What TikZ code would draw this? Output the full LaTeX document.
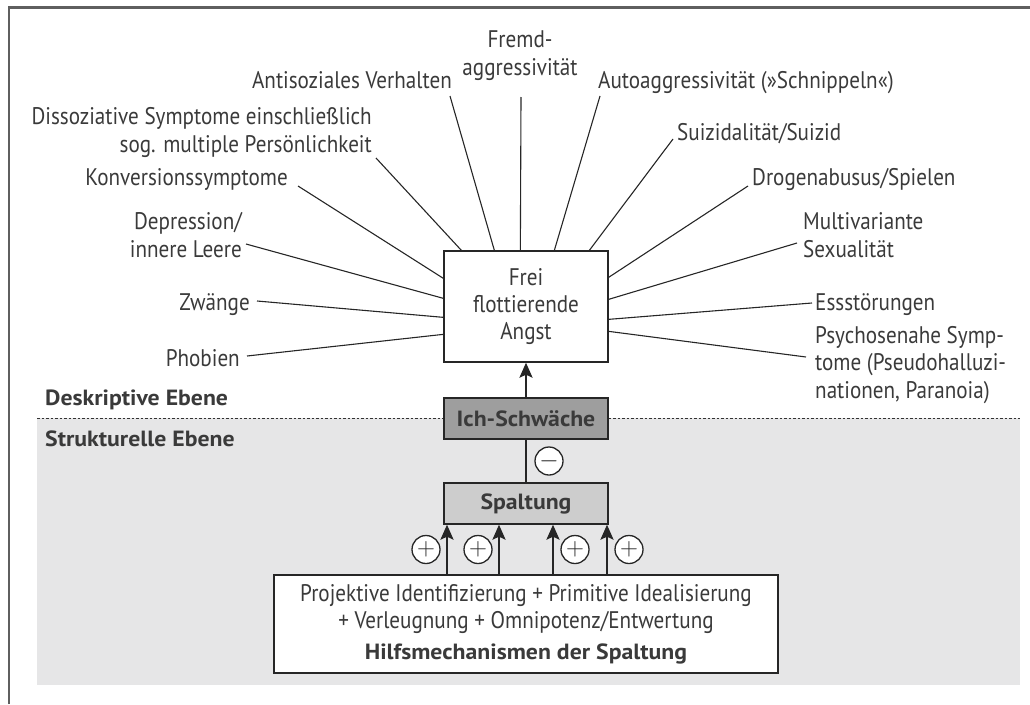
\documentclass[tikz,border=0pt]{standalone}
\usepackage{fontspec}
\setmainfont{PT Sans}[FakeStretch=0.88]
\newfontfamily\fett{PT Sans}[FakeStretch=1.08]
\usepackage{tikz}
\usetikzlibrary{calc,arrows.meta}
\definecolor{framegray}{HTML}{5F5F5F}
\definecolor{txtgray}{HTML}{3A3A3A}
\definecolor{ebenegray}{HTML}{E6E6E7}
\definecolor{ichgray}{HTML}{9E9E9E}
\definecolor{spaltgray}{HTML}{CDCDCD}
\tikzset{
	lbl/.style={inner sep=0pt, text=txtgray, font=\fontsize{24}{27.5}\selectfont},
	boldlbl/.style={lbl, font=\fett\bfseries\fontsize{22}{27.5}\selectfont},
	ray/.style={line width=1.1pt, draw=black!85},
	kasten/.style={draw=black!85, line width=1.3pt, fill=white, text=txtgray, align=center, inner sep=0pt, font=\fontsize{24}{27}\selectfont},
	fettkasten/.style={kasten, minimum width=164pt, minimum height=41pt, font=\fett\bfseries\fontsize{22}{27.5}\selectfont},
	strong/.style={line width=2.4pt, draw=black!85},
	arr/.style={strong, -{Stealth[length=15pt,width=13pt,inset=3pt]}},
	sgn/.style={circle, draw=black!85, fill=white, line width=1.3pt, minimum size=28pt, inner sep=0pt, text=black!85, font=\fontsize{25}{25}\selectfont}
}
\begin{document}
\begin{tikzpicture}[x=1pt,y=1pt]
		\useasboundingbox (0,0) rectangle (1030,-704);
		%frame
		\draw[framegray, line width=2.2pt] (9,-704) -- (9,-7.5) -- (1030,-7.5);
		%strukturelle ebene
		\fill[ebenegray] (37,-418) rectangle (1020,-685);
		\draw[black!80, line width=1pt, dash pattern=on 2.5pt off 2pt] (37,-418) -- (1020,-418);
		
		%boxes
		\node[kasten, minimum width=164pt, minimum height=111pt] (frei) at (526,-306.5) {Frei\\flottierende\\Angst};
		\node[fettkasten, fill=ichgray] (ich) at (526,-418.5) {Ich-Schwäche};
		\node[fettkasten, fill=spaltgray] (spalt) at (526,-503.5) {Spaltung};
		\node[kasten, minimum width=504pt, minimum height=98pt] (hilf) at (526,-624) {Projektive Identifizierung + Primitive Idealisierung\\+ Verleugnung + Omnipotenz/Entwertung\\[4pt]{\fett\bfseries\fontsize{22}{27.5}\selectfont Hilfsmechanismen der Spaltung}};
		
		%symptoms
		\node[lbl, align=center, anchor=base] (fremd) at (520,-75) {Fremd-\\aggressivität};
		\node[lbl, anchor=base east] (anti) at (452,-88) {Antisoziales Verhalten};
		\node[lbl, anchor=base west] (auto) at (598,-88) {Autoaggressivität (»Schnippeln«)};
		\node[lbl, align=right, anchor=base east] (diss) at (372,-152) {Dissoziative Symptome einschließlich\\sog. multiple Persönlichkeit};
		\node[lbl, anchor=base east] (konv) at (288,-185) {Konversionssymptome};
		\node[lbl, align=right, anchor=base east] (depr) at (242,-257) {Depression/\\innere Leere};
		\node[lbl, anchor=base east] (zwang) at (250,-310) {Zwänge};
		\node[lbl, anchor=base east] (phob) at (240,-366) {Phobien};
		\node[lbl, anchor=base west] (suiz) at (677,-140) {Suizidalität/Suizid};
		\node[lbl, anchor=base west] (drog) at (752,-185) {Drogenabusus/Spielen};
		\node[lbl, align=left, anchor=base west] (multi) at (803,-257) {Multivariante\\Sexualität};
		\node[lbl, anchor=base west] (ess) at (815,-310) {Essstörungen};
		\node[lbl, align=left, anchor=base west] (psych) at (815,-398) {Psychosenahe Symp-\\tome (Pseudohalluzi-\\nationen, Paranoia)};
		
		%levels
		\node[boldlbl, anchor=base west] (desk) at (45,-405) {Deskriptive Ebene};
		\node[boldlbl, anchor=base west] (strukt) at (45,-446) {Strukturelle Ebene};
		
		%ends on the box
		\coordinate (t1) at ($(frei.north west)+(18,0)$);
		\coordinate (t2) at ($(frei.north west)+(51,0)$);
		\coordinate (t3) at ($(frei.north west)+(77,0)$);
		\coordinate (t4) at ($(frei.north west)+(111,0)$);
		\coordinate (t5) at ($(frei.north west)+(146,0)$);
		\coordinate (l1) at ($(frei.north west)+(0,-28)$);
		\coordinate (l2) at ($(frei.north west)+(0,-48)$);
		\coordinate (l3) at ($(frei.north west)+(0,-67)$);
		\coordinate (l4) at ($(frei.north west)+(0,-84)$);
		\coordinate (r1) at ($(frei.north east)+(0,-27)$);
		\coordinate (r2) at ($(frei.north east)+(0,-49)$);
		\coordinate (r3) at ($(frei.north east)+(0,-69)$);
		\coordinate (r4) at ($(frei.north east)+(0,-81)$);
		%ends at the labels
		\coordinate (odiss) at ([shift={(4,-6)}]diss.base east);
		\coordinate (oanti) at ([shift={(-2,-8)}]anti.base east);
		\coordinate (ofremd) at ([shift={(1,-22)}]fremd.base);
		\coordinate (oauto) at ([shift={(2,-8)}]auto.base west);
		\coordinate (osuiz) at ([shift={(-4,1)}]suiz.base west);
		\coordinate (odrog) at ([shift={(-4,-1)}]drog.base west);
		\coordinate (omulti) at ([shift={(-6,14)}]multi.base west);
		\coordinate (oess) at ([shift={(-3,7)}]ess.base west);
		\coordinate (opsych) at ([shift={(-9,41)}]psych.base west);
		\coordinate (okonv) at ([shift={(10,-1)}]konv.base east);
		\coordinate (odepr) at ([shift={(4,13)}]depr.base east);
		\coordinate (ozwang) at ([shift={(7,9)}]zwang.base east);
		\coordinate (ophob) at ([shift={(7,10)}]phob.base east);
		
		\foreach \a/\b in {odiss/t1, oanti/t2, ofremd/t3, oauto/t4, osuiz/t5, okonv/l1, odepr/l2, ozwang/l3, ophob/l4, odrog/r1, omulti/r2, oess/r3, opsych/r4}{
			\draw[ray] (\a) -- (\b);
		}
		
		%structure
		\draw[arr] (ich.north) -- (frei.south);
		\draw[strong] (spalt.north) -- (ich.south);
		\node[sgn] (minus) at ($(ich.south)!0.5!(spalt.north)+(23,0)$) {$-$};
		\foreach \dx/\sx/\n in {-79/-21/1, -27/-21/2, 27/22/3, 81/22/4}{
			\draw[arr] ([xshift=\dx]hilf.north) -- ([xshift=\dx]spalt.south);
			\node[sgn] (plus\n) at ($(hilf.north)!0.5!(spalt.south)+(\dx+\sx,0)$) {$+$};
		}
		
		\end{tikzpicture}
\end{document}
